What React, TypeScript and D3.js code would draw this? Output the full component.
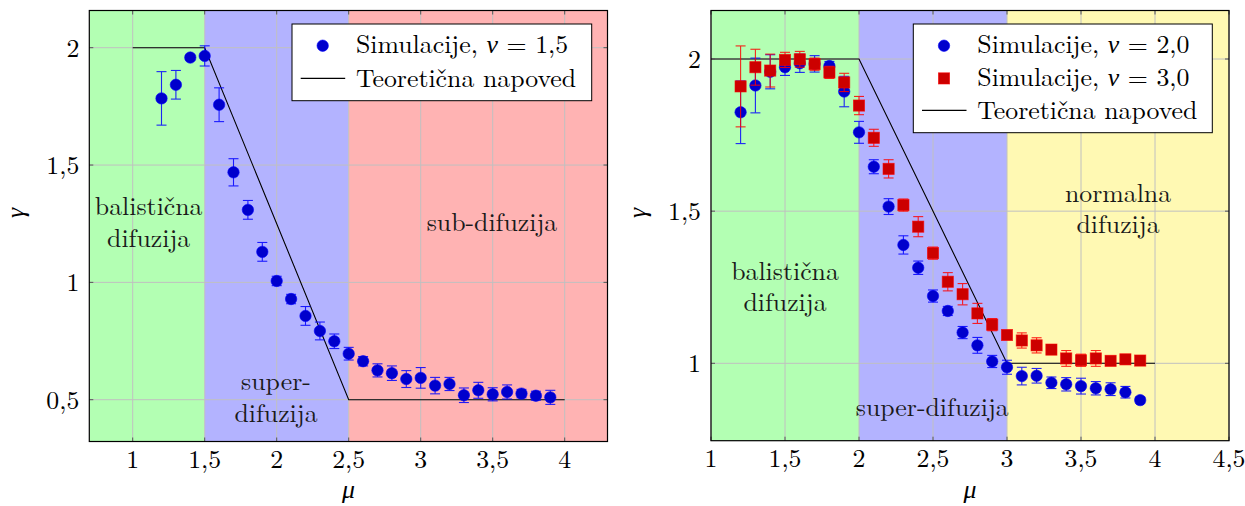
import * as d3 from "d3";

// mu values shared by all simulation series
const MU = [1.2, 1.3, 1.4, 1.5, 1.6, 1.7, 1.8, 1.9, 2.0, 2.1, 2.2, 2.3, 2.4, 2.5, 2.6, 2.7, 2.8, 2.9, 3.0, 3.1, 3.2, 3.3, 3.4, 3.5, 3.6, 3.7, 3.8, 3.9];

// left panel, nu = 1.5
const GAMMA_NU15 = [1.784, 1.842, 1.958, 1.965, 1.757, 1.469, 1.309, 1.13, 1.006, 0.929, 0.857, 0.793, 0.749, 0.696, 0.664, 0.625, 0.613, 0.588, 0.593, 0.56, 0.567, 0.519, 0.54, 0.523, 0.533, 0.526, 0.517, 0.51];
const ERR_NU15 = [0.114, 0.061, 0.01, 0.043, 0.072, 0.058, 0.04, 0.04, 0.02, 0.02, 0.04, 0.038, 0.031, 0.027, 0.02, 0.028, 0.031, 0.036, 0.044, 0.035, 0.028, 0.031, 0.034, 0.028, 0.03, 0.018, 0.019, 0.03];

// right panel, nu = 2.0 and nu = 3.0
const GAMMA_NU20 = [1.825, 1.913, 1.958, 1.973, 1.986, 1.984, 1.977, 1.893, 1.759, 1.646, 1.515, 1.389, 1.314, 1.221, 1.172, 1.101, 1.059, 1.006, 0.987, 0.958, 0.959, 0.936, 0.931, 0.925, 0.918, 0.915, 0.905, 0.879];
const ERR_NU20 = [0.103, 0.09, 0.056, 0.027, 0.03, 0.027, 0.015, 0.05, 0.036, 0.023, 0.026, 0.03, 0.022, 0.02, 0.015, 0.02, 0.026, 0.02, 0.023, 0.029, 0.024, 0.019, 0.022, 0.026, 0.022, 0.021, 0.019, 0.01];
const GAMMA_NU30 = [1.91, 1.973, 1.962, 1.997, 1.999, 1.983, 1.956, 1.923, 1.847, 1.741, 1.639, 1.52, 1.449, 1.362, 1.268, 1.227, 1.164, 1.127, 1.093, 1.075, 1.059, 1.045, 1.016, 1.01, 1.016, 1.008, 1.013, 1.009];
const ERR_NU30 = [0.133, 0.059, 0.054, 0.025, 0.026, 0.02, 0.02, 0.03, 0.03, 0.028, 0.03, 0.02, 0.033, 0.02, 0.03, 0.035, 0.033, 0.02, 0.01, 0.025, 0.025, 0.015, 0.026, 0.02, 0.026, 0.015, 0.012, 0.012];

// theoretical predictions (mu, gamma)
const THEORY_LEFT: [number, number][] = [[1, 2], [1.5, 2], [2.5, 0.5], [4, 0.5]];
const THEORY_RIGHT: [number, number][] = [[1, 2], [2, 2], [3, 1], [4, 1]];

const X_TICKS_LEFT = [1, 1.5, 2, 2.5, 3, 3.5, 4];
const Y_TICKS_LEFT = [0.5, 1, 1.5, 2];
const X_TICKS_RIGHT = [1, 1.5, 2, 2.5, 3, 3.5, 4, 4.5];
const Y_TICKS_RIGHT = [1, 1.5, 2];

const FONT = '"Latin Modern Roman", "CMU Serif", "Liberation Serif", serif';
const GREEN = "#b3ffb3";
const BLUE_BG = "#b3b3ff";
const RED_BG = "#ffb3b3";
const YELLOW_BG = "#fff9b3";
const GRID = "#c0c0c0";
const FS = 25.8;
const LINE_GAP = 31.6;

const fmt = (v: number) => String(v).replace(".", ",");

interface Series {
  gamma: number[];
  err: number[];
  marker: "circle" | "square";
  fill: string;
  stroke: string;
  label: string;
}

interface Region {
  from: number;
  to: number;
  color: string;
}

interface RegionLabel {
  mu: number;
  gamma: number;
  lines: string[];
}

interface PanelProps {
  x: d3.ScaleLinear<number, number>;
  y: d3.ScaleLinear<number, number>;
  frame: { left: number; right: number; top: number; bottom: number };
  xTicks: number[];
  yTicks: number[];
  regions: Region[];
  labels: RegionLabel[];
  series: Series[];
  theory: [number, number][];
  legend: { x: number; y: number; w: number; pitch: number };
}

function Marker({ kind, cx, cy, fill, stroke }: { kind: string; cx: number; cy: number; fill: string; stroke: string }) {
  if (kind === "square") {
    return <rect x={cx - 5.6} y={cy - 5.6} width={11.2} height={11.2} fill={fill} stroke={stroke} strokeWidth={0.8} strokeOpacity={0.7} />;
  }
  return <circle cx={cx} cy={cy} r={5.7} fill={fill} stroke={stroke} strokeWidth={0.6} />;
}

function Panel({ x, y, frame, xTicks, yTicks, regions, labels, series, theory, legend }: PanelProps) {
  const { left, right, top, bottom } = frame;
  const line = d3.line<[number, number]>().x((d) => x(d[0])).y((d) => y(d[1]));
  const clamp = (v: number) => Math.max(left, Math.min(right, v));
  const clipId = `clip-${Math.round(left)}`;
  const rows = series.length + 1;
  const legendH = 29.3 + (rows - 1) * legend.pitch + 14;

  return (
    <g fontFamily={FONT} fontSize={FS}>
      <defs>
        <clipPath id={clipId}>
          <rect x={left} y={top} width={right - left} height={bottom - top} />
        </clipPath>
      </defs>
      {regions.map((r, i) => (
        <rect key={i} x={clamp(x(r.from))} y={top} width={clamp(x(r.to)) - clamp(x(r.from))} height={bottom - top} fill={r.color} />
      ))}
      {/* grid */}
      {xTicks.map((t) => (
        <line key={"gx" + t} x1={x(t)} x2={x(t)} y1={top} y2={bottom} stroke={GRID} strokeWidth={1} />
      ))}
      {yTicks.map((t) => (
        <line key={"gy" + t} x1={left} x2={right} y1={y(t)} y2={y(t)} stroke={GRID} strokeWidth={1} />
      ))}
      {/* region labels, one text per line */}
      {labels.map((l, i) =>
        l.lines.map((s, j) => (
          <text key={"l" + i + "-" + j} x={x(l.mu)} y={y(l.gamma) + j * LINE_GAP} textAnchor="middle" fill="#1a1a1a">
            {s}
          </text>
        ))
      )}
      {/* theory */}
      <path d={line(theory) || ""} fill="none" stroke="#000" strokeWidth={1.1} clipPath={`url(#${clipId})`} />
      {/* series */}
      {series.map((s, si) => (
        <g key={"s" + si}>
          {MU.map((m, i) => {
            const cx = x(m);
            const y1 = y(s.gamma[i] + s.err[i]);
            const y2 = y(s.gamma[i] - s.err[i]);
            return (
              <g key={i} stroke={s.stroke} strokeWidth={1.1} opacity={0.85}>
                <line x1={cx} x2={cx} y1={y1} y2={y2} />
                <line x1={cx - 5} x2={cx + 5} y1={y1} y2={y1} />
                <line x1={cx - 5} x2={cx + 5} y1={y2} y2={y2} />
              </g>
            );
          })}
          {MU.map((m, i) => (
            <Marker key={"m" + i} kind={s.marker} cx={x(m)} cy={y(s.gamma[i])} fill={s.fill} stroke={s.stroke} />
          ))}
        </g>
      ))}
      {/* frame ticks */}
      {xTicks.map((t) => (
        <g key={"tx" + t} stroke="#555" strokeWidth={1}>
          <line x1={x(t)} x2={x(t)} y1={bottom} y2={bottom - 4} />
          <line x1={x(t)} x2={x(t)} y1={top} y2={top + 4} />
        </g>
      ))}
      {yTicks.map((t) => (
        <g key={"ty" + t} stroke="#555" strokeWidth={1}>
          <line x1={left} x2={left + 4} y1={y(t)} y2={y(t)} />
          <line x1={right} x2={right - 4} y1={y(t)} y2={y(t)} />
        </g>
      ))}
      <rect x={left} y={top} width={right - left} height={bottom - top} fill="none" stroke="#000" strokeWidth={1.2} />
      {/* tick labels */}
      {xTicks.map((t) => (
        <text key={"xl" + t} x={x(t)} y={bottom + 26} textAnchor="middle" fill="#000">
          {fmt(t)}
        </text>
      ))}
      {yTicks.map((t) => (
        <text key={"yl" + t} x={left - 10} y={y(t) + 9} textAnchor="end" fill="#000">
          {fmt(t)}
        </text>
      ))}
      {/* axis labels */}
      <text x={(left + right) / 2} y={498} textAnchor="middle" fontStyle="italic">
        μ
      </text>
      <text transform={`translate(${left - 65},${213}) rotate(-90)`} textAnchor="middle" fontStyle="italic">
        γ
      </text>
      {/* legend */}
      <rect x={legend.x} y={legend.y} width={legend.w} height={legendH} fill="#fff" stroke="#000" strokeWidth={1} />
      {series.map((s, i) => {
        const base = legend.y + 29.3 + legend.pitch * i;
        return (
          <g key={"lg" + i}>
            <Marker kind={s.marker} cx={legend.x + 30.7} cy={base - 7.6} fill={s.fill} stroke={s.stroke} />
            <text x={legend.x + 64} y={base}>
              Simulacije, <tspan fontStyle="italic">ν</tspan> = {s.label}
            </text>
          </g>
        );
      })}
      {(() => {
        const base = legend.y + 29.3 + legend.pitch * series.length;
        return (
          <g>
            <line x1={legend.x + 8.7} x2={legend.x + 53.2} y1={base - 8.3} y2={base - 8.3} stroke="#000" strokeWidth={1.1} />
            <text x={legend.x + 64} y={base}>
              Teoretična napoved
            </text>
          </g>
        );
      })()}
    </g>
  );
}

export default function App() {
  const xL = d3.scaleLinear().domain([1, 4]).range([132.7, 564.7]);
  const yL = d3.scaleLinear().domain([0.5, 2]).range([399.7, 47.7]);
  const xR = d3.scaleLinear().domain([1, 4.5]).range([711, 1229]);
  const yR = d3.scaleLinear().domain([1, 2]).range([363.3, 59]);

  const blue: Omit<Series, "gamma" | "err" | "label"> = { marker: "circle", fill: "#0000cc", stroke: "#0000ff" };
  const red: Omit<Series, "gamma" | "err" | "label"> = { marker: "square", fill: "#cc0000", stroke: "#ff0000" };

  return (
    <svg width={1245} height={506} style={{ position: "absolute", left: 0, top: 0, background: "#fff" }}>
      <Panel
        x={xL}
        y={yL}
        frame={{ left: 89.3, right: 607.5, top: 10.5, bottom: 441.5 }}
        xTicks={X_TICKS_LEFT}
        yTicks={Y_TICKS_LEFT}
        regions={[
          { from: 0.7, to: 1.5, color: GREEN },
          { from: 1.5, to: 2.5, color: BLUE_BG },
          { from: 2.5, to: 4.3, color: RED_BG },
        ]}
        labels={[
          { mu: 1.111, gamma: 1.287, lines: ["balistična", "difuzija"] },
          { mu: 1.995, gamma: 0.541, lines: ["super-", "difuzija"] },
          { mu: 3.495, gamma: 1.22, lines: ["sub-difuzija"] },
        ]}
        series={[{ ...blue, gamma: GAMMA_NU15, err: ERR_NU15, label: "1,5" }]}
        theory={THEORY_LEFT}
        legend={{ x: 292, y: 24, w: 299.7, pitch: 33.4 }}
      />
      <Panel
        x={xR}
        y={yR}
        frame={{ left: 711, right: 1229, top: 10.5, bottom: 440.7 }}
        xTicks={X_TICKS_RIGHT}
        yTicks={Y_TICKS_RIGHT}
        regions={[
          { from: 1, to: 2, color: GREEN },
          { from: 2, to: 3, color: BLUE_BG },
          { from: 3, to: 4.5, color: YELLOW_BG },
        ]}
        labels={[
          { mu: 1.5, gamma: 1.275, lines: ["balistična", "difuzija"] },
          { mu: 2.495, gamma: 0.828, lines: ["super-difuzija"] },
          { mu: 3.75, gamma: 1.531, lines: ["normalna", "difuzija"] },
        ]}
        series={[
          { ...blue, gamma: GAMMA_NU20, err: ERR_NU20, label: "2,0" },
          { ...red, gamma: GAMMA_NU30, err: ERR_NU30, label: "3,0" },
        ]}
        theory={THEORY_RIGHT}
        legend={{ x: 913.3, y: 24, w: 299, pitch: 32.7 }}
      />
    </svg>
  );
}
